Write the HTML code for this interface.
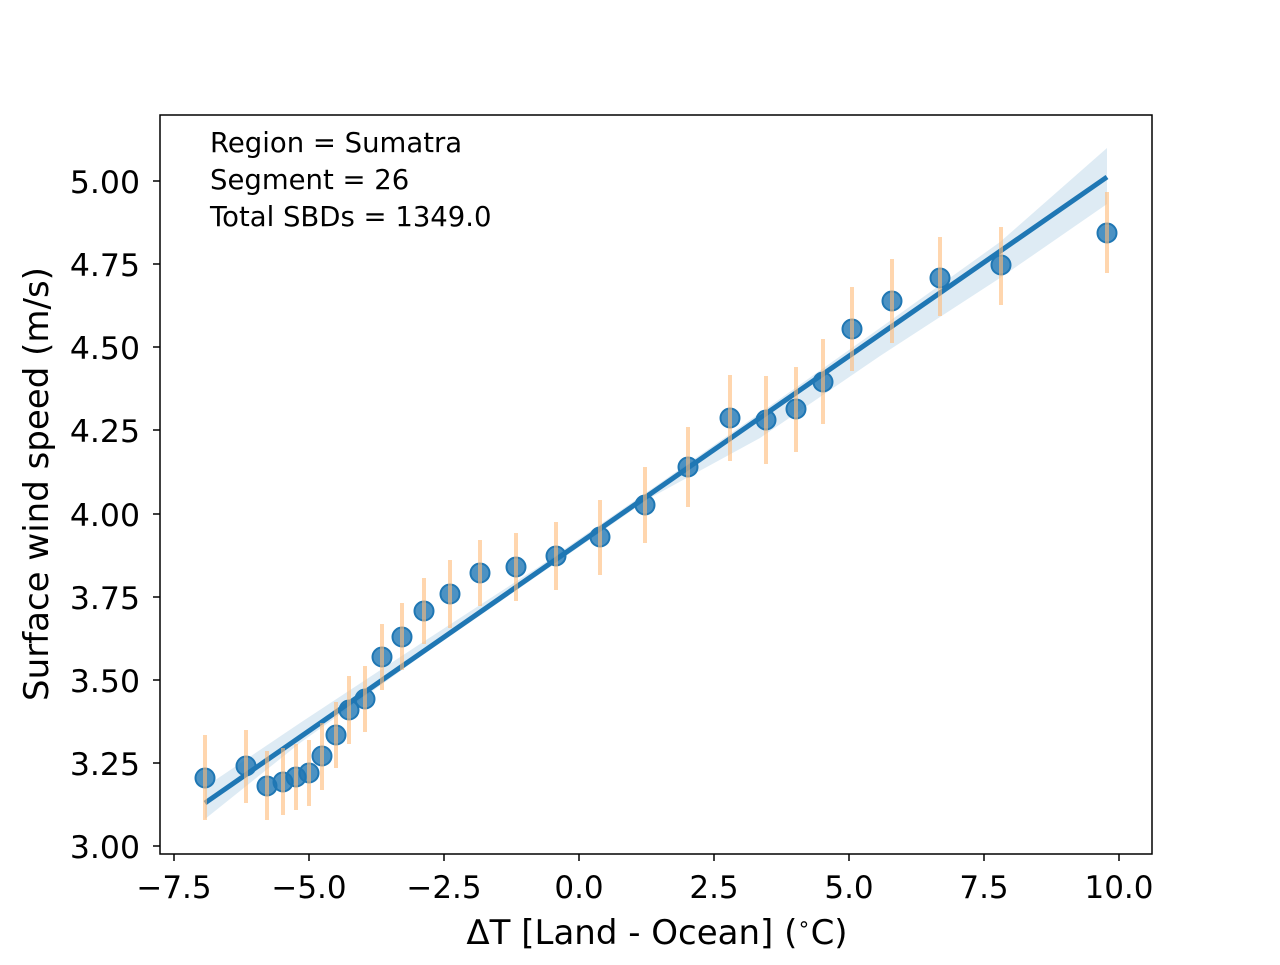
<!DOCTYPE html>
<html><head><style>body{margin:0;background:#fff}svg text{font-family:"DejaVu Sans","Liberation Sans",sans-serif}</style></head><body>
<svg width="1280" height="960" xmlns="http://www.w3.org/2000/svg">
<rect width="1280" height="960" fill="#fff"/>
<polygon points="205,787 300,723 420,644 540,566 650,490 760,413 880,328 1000,242 1107,148 1107,204 1000,278 880,356 760,438 650,498 540,574 420,657 300,743 205,819" fill="#1f77b4" fill-opacity="0.15"/>
<line x1="205" y1="803" x2="1107" y2="177" stroke="#1f77b4" stroke-width="5"/>
<g fill="#1f77b4" fill-opacity="0.8" stroke="#1f77b4" stroke-width="2">
<circle cx="205" cy="778" r="9.5"/><circle cx="246" cy="766" r="9.5"/><circle cx="267" cy="786" r="9.5"/><circle cx="283" cy="782" r="9.5"/><circle cx="296" cy="777" r="9.5"/><circle cx="309" cy="773" r="9.5"/><circle cx="322" cy="756" r="9.5"/><circle cx="336" cy="735" r="9.5"/><circle cx="349" cy="710" r="9.5"/><circle cx="365" cy="699" r="9.5"/><circle cx="382" cy="657" r="9.5"/><circle cx="402" cy="637" r="9.5"/><circle cx="424" cy="611" r="9.5"/><circle cx="450" cy="594" r="9.5"/><circle cx="480" cy="573" r="9.5"/><circle cx="516" cy="567" r="9.5"/><circle cx="556" cy="556" r="9.5"/><circle cx="600" cy="537" r="9.5"/><circle cx="645" cy="505" r="9.5"/><circle cx="688" cy="467" r="9.5"/><circle cx="730" cy="418" r="9.5"/><circle cx="766" cy="420" r="9.5"/><circle cx="796" cy="409" r="9.5"/><circle cx="823" cy="382" r="9.5"/><circle cx="852" cy="329" r="9.5"/><circle cx="892" cy="301" r="9.5"/><circle cx="940" cy="278" r="9.5"/><circle cx="1001" cy="265" r="9.5"/><circle cx="1107" cy="233" r="9.5"/>
</g>
<g stroke="#ffbb78" stroke-opacity="0.6" stroke-width="4">
<line x1="205" y1="735" x2="205" y2="820"/><line x1="246" y1="730" x2="246" y2="803"/><line x1="267" y1="751" x2="267" y2="820"/><line x1="283" y1="748" x2="283" y2="815"/><line x1="296" y1="744" x2="296" y2="810"/><line x1="309" y1="740" x2="309" y2="806"/><line x1="322" y1="723" x2="322" y2="790"/><line x1="336" y1="702" x2="336" y2="768"/><line x1="349" y1="676" x2="349" y2="744"/><line x1="365" y1="666" x2="365" y2="732"/><line x1="382" y1="624" x2="382" y2="690"/><line x1="402" y1="603" x2="402" y2="670"/><line x1="424" y1="578" x2="424" y2="644"/><line x1="450" y1="560" x2="450" y2="628"/><line x1="480" y1="540" x2="480" y2="606"/><line x1="516" y1="533" x2="516" y2="601"/><line x1="556" y1="522" x2="556" y2="590"/><line x1="600" y1="500" x2="600" y2="575"/><line x1="645" y1="467" x2="645" y2="543"/><line x1="688" y1="427" x2="688" y2="507"/><line x1="730" y1="375" x2="730" y2="461"/><line x1="766" y1="376" x2="766" y2="464"/><line x1="796" y1="367" x2="796" y2="452"/><line x1="823" y1="339" x2="823" y2="424"/><line x1="852" y1="287" x2="852" y2="371"/><line x1="892" y1="259" x2="892" y2="343"/><line x1="940" y1="237" x2="940" y2="316"/><line x1="1001" y1="227" x2="1001" y2="305"/><line x1="1107" y1="192" x2="1107" y2="273"/>
</g>
<rect x="160" y="115" width="992" height="739" fill="none" stroke="#000" stroke-width="1.5"/>
<g stroke="#000" stroke-width="1.5">
<line x1="174" y1="854" x2="174" y2="861"/><line x1="309" y1="854" x2="309" y2="861"/><line x1="444" y1="854" x2="444" y2="861"/><line x1="579" y1="854" x2="579" y2="861"/><line x1="714" y1="854" x2="714" y2="861"/><line x1="849" y1="854" x2="849" y2="861"/><line x1="984" y1="854" x2="984" y2="861"/><line x1="1119" y1="854" x2="1119" y2="861"/>
<line x1="153" y1="181" x2="160" y2="181"/><line x1="153" y1="264" x2="160" y2="264"/><line x1="153" y1="347" x2="160" y2="347"/><line x1="153" y1="430" x2="160" y2="430"/><line x1="153" y1="514" x2="160" y2="514"/><line x1="153" y1="597" x2="160" y2="597"/><line x1="153" y1="680" x2="160" y2="680"/><line x1="153" y1="763" x2="160" y2="763"/><line x1="153" y1="846" x2="160" y2="846"/>
</g>
<g font-size="31" text-anchor="middle" fill="#000">
<text x="174" y="898">−7.5</text><text x="309" y="898">−5.0</text><text x="444" y="898">−2.5</text><text x="579" y="898">0.0</text><text x="714" y="898">2.5</text><text x="849" y="898">5.0</text><text x="984" y="898">7.5</text><text x="1119" y="898">10.0</text>
</g>
<g font-size="31.5" text-anchor="end" fill="#000">
<text x="140" y="193">5.00</text><text x="140" y="276">4.75</text><text x="140" y="359">4.50</text><text x="140" y="442">4.25</text><text x="140" y="526">4.00</text><text x="140" y="609">3.75</text><text x="140" y="692">3.50</text><text x="140" y="775">3.25</text><text x="140" y="858">3.00</text>
</g>
<text x="657" y="944" font-size="34" text-anchor="middle">ΔT [Land - Ocean] (<tspan font-size="21" dy="-13">∘</tspan><tspan dy="13">C)</tspan></text>
<text transform="translate(48,484) rotate(-90)" font-size="34" text-anchor="middle">Surface wind speed (m/s)</text>
<g font-size="27.5"><text x="210" y="152">Region = Sumatra</text><text x="210" y="189">Segment = 26</text><text x="210" y="226">Total SBDs = 1349.0</text></g>
</svg>
</body></html>
